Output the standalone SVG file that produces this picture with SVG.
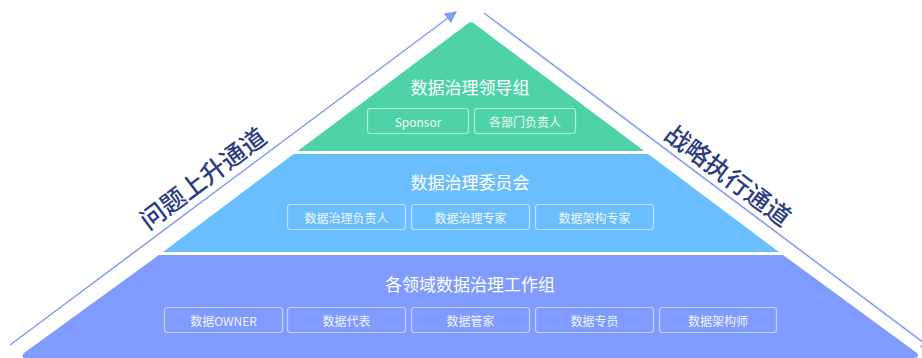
<svg xmlns="http://www.w3.org/2000/svg" width="922" height="358" viewBox="0 0 922 358">
<defs>
<marker id="arr" viewBox="0 0 10 10" refX="9" refY="5" markerWidth="8" markerHeight="8" orient="auto" markerUnits="strokeWidth">
<path d="M0,0 L10,5 L0,10 Z" fill="#829BF5"/>
</marker>
<style>
.title{font-family:"Noto Sans CJK SC","Noto Sans",sans-serif;font-size:17px;fill:#ffffff;text-anchor:middle;dominant-baseline:central}
.box{fill:none;stroke:#ffffff;stroke-opacity:0.55;stroke-width:1.2}
.bt{font-family:"Noto Sans CJK SC","Noto Sans",sans-serif;font-size:12px;fill:#ffffff;fill-opacity:0.92;text-anchor:middle;dominant-baseline:central}
.side{font-family:"Noto Sans CJK SC",sans-serif;font-size:25px;font-weight:500;fill:#2D3D82;text-anchor:middle;dominant-baseline:central}
.ln{stroke:#829BF5;stroke-width:1.5;fill:none}
</style>
</defs>
<rect width="922" height="358" fill="#ffffff"/>
<g id="level-work">
<path d="M159,255 L783,255 L917,353 Q920,358 914,358 L26,358 Q20,358 24,353 Z" fill="#7E9BFD"/>
<text class="title" x="470" y="283">各领域数据治理工作组</text>
<rect class="box" x="164.5" y="307.5" width="118" height="25" rx="3"/>
<text class="bt" x="223.5" y="320">数据OWNER</text>
<rect class="box" x="287.5" y="307.5" width="118" height="25" rx="3"/>
<text class="bt" x="346.5" y="320">数据代表</text>
<rect class="box" x="411.5" y="307.5" width="118" height="25" rx="3"/>
<text class="bt" x="470.5" y="320">数据管家</text>
<rect class="box" x="535.5" y="307.5" width="118" height="25" rx="3"/>
<text class="bt" x="594.5" y="320">数据专员</text>
<rect class="box" x="659.5" y="307.5" width="117" height="25" rx="3"/>
<text class="bt" x="718" y="320">数据架构师</text>
</g>
<g id="level-committee">
<path d="M293.7,154 L648.3,154 L779,252 L163,252 Z" fill="#6BBEFD"/>
<text class="title" x="470" y="181">数据治理委员会</text>
<rect class="box" x="287.5" y="204.5" width="118" height="25" rx="3"/>
<text class="bt" x="346.5" y="217">数据治理负责人</text>
<rect class="box" x="411.5" y="204.5" width="118" height="25" rx="3"/>
<text class="bt" x="470.5" y="217">数据治理专家</text>
<rect class="box" x="535.5" y="204.5" width="118" height="25" rx="3"/>
<text class="bt" x="594.5" y="217">数据架构专家</text>
</g>
<g id="level-leader">
<path d="M466,25 Q471,19.5 476,25 L644.3,151 L297.7,151 Z" fill="#50D2A8"/>
<text class="title" x="470" y="86">数据治理领导组</text>
<rect class="box" x="367.5" y="108.5" width="101" height="25" rx="3"/>
<text class="bt" x="418" y="121">Sponsor</text>
<rect class="box" x="474.5" y="108.5" width="101" height="25" rx="3"/>
<text class="bt" x="525" y="121">各部门负责人</text>
</g>
<g id="connectors">
<line class="ln" x1="10" y1="345" x2="456" y2="12" marker-end="url(#arr)"/>
<line class="ln" x1="484" y1="13" x2="932" y2="349" marker-end="url(#arr)"/>
</g>
<g id="label-up">
<text class="side" x="202" y="177" transform="rotate(-36.87 202 177)">问题上升通道</text>
</g>
<g id="label-down">
<text class="side" x="729" y="174" transform="rotate(36.87 729 174)">战略执行通道</text>
</g>
</svg>
